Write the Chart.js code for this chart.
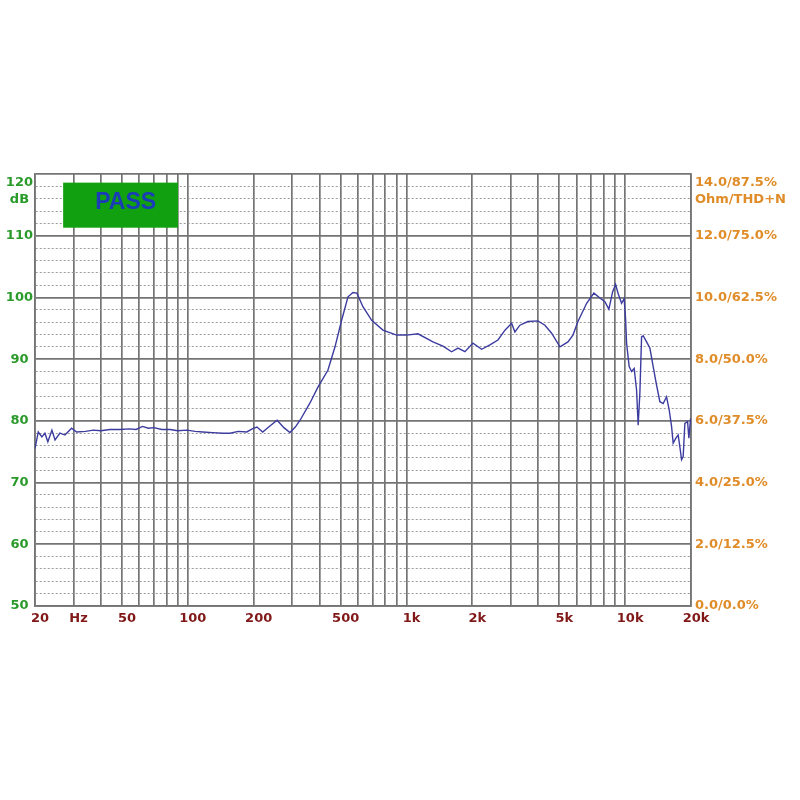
<!DOCTYPE html>
<html><head><meta charset="utf-8">
<script src="https://cdn.jsdelivr.net/npm/chart.js@4/dist/chart.umd.min.js"></script>
<style>html,body{margin:0;padding:0;background:#fff;}#wrap{width:800px;height:800px;}</style>
</head><body><div id="wrap"><canvas id="c" width="800" height="800"></canvas></div>
<script>
// ---- data ----
const freqHz = [20,20.7,21.5,22.2,22.9,23.9,24.7,26.0,27.4,29.4,31.0,34,37,40,44,49,54,58,62,66,70,76,83,90,99,108,117,130,145,156,170,186,197,207,220,238,256,275,293,310,326,362,394,437,471,505,540,569,593,632,693,780,901,1002,1128,1321,1468,1608,1719,1850,2013,2206,2407,2619,2820,3025,3131,3300,3592,3990,4295,4610,5032,5475,5770,6082,6665,7194,7662,8076,8424,8758,9039,9290,9629,9896,10044,10150,10430,10697,10993,11275,11466,11674,11885,12088,12528,12971,13429,13917,14410,14920,15462,15892,16298,16575,17055,17473,17790,18110,18418,18750,19290,19560,19920];
const splDb = [75.5,78.2,77.4,78.0,76.6,78.5,76.9,78.0,77.7,78.8,78.2,78.3,78.5,78.4,78.6,78.6,78.7,78.6,79.1,78.8,78.9,78.6,78.6,78.4,78.5,78.3,78.2,78.1,78.0,78.0,78.3,78.2,78.7,79.0,78.2,79.2,80.1,78.9,78.1,79.0,80.1,82.9,85.5,88.2,92.0,96.3,100.1,100.8,100.7,98.5,96.3,94.7,93.9,93.9,94.1,92.8,92.1,91.2,91.8,91.2,92.6,91.6,92.3,93.1,94.7,95.8,94.4,95.5,96.1,96.2,95.5,94.2,92.0,92.8,93.9,96.1,99.05,100.7,99.9,99.3,98.1,100.9,102.1,100.6,99.05,99.8,96.5,92.6,88.8,88.0,88.5,85.0,79.3,84.5,93.6,93.8,92.8,91.8,88.8,85.8,83.1,82.8,83.9,81.8,79.1,76.4,77.2,77.7,75.8,73.7,74.2,79.6,79.9,77.2,80.4];

const xGridFreqs = [20,30,40,50,60,70,80,90,100,200,300,400,500,600,700,800,900,1000,2000,3000,4000,5000,6000,7000,8000,9000,10000,20000];
const xLabelValues = [20,30,50,100,200,500,1000,2000,5000,10000,20000];
const xLabelTexts = ['20','Hz','50','100','200','500','1k','2k','5k','10k','20k'];

const leftTickValues = [50,60,70,80,90,100,110,120];
const leftTickLabels = ['50','60','70','80','90','100','110','120'];
const rightTickLabels = ['0.0/0.0%','2.0/12.5%','4.0/25.0%','6.0/37.5%','8.0/50.0%','10.0/62.5%','12.0/75.0%','14.0/87.5%'];
const leftUnit = 'dB';
const rightUnit = 'Ohm/THD+N';
const statusText = 'PASS';

// ---- chart ----
const FONT = {family:'"DejaVu Sans", Verdana, sans-serif', size:13, weight:'bold', lineHeight:1.3};
const MAJOR = '#747474', MINOR = '#9a9a9a';

const passPlugin = {
  id:'passBox',
  afterDraw(chart){
    const {ctx} = chart;
    const xs = chart.scales.x, ys = chart.scales.y;
    const x0 = xs.getPixelForValue(26.9), x1 = xs.getPixelForValue(90.2);
    const y0 = ys.getPixelForValue(118.6), y1 = ys.getPixelForValue(111.3);
    ctx.save();
    ctx.fillStyle = '#10a010';
    ctx.fillRect(x0, y0, x1-x0, y1-y0);
    ctx.fillStyle = '#1a3cb8';
    ctx.font = 'bold 23px "Liberation Sans", Arial, sans-serif';
    ctx.textAlign = 'center';
    ctx.textBaseline = 'middle';
    ctx.fillText(statusText, (x0+x1)/2+5, (y0+y1)/2-3);
    ctx.restore();
  }
};

new Chart(document.getElementById('c'), {
  type:'line',
  data:{datasets:[{
    data: freqHz.map((f,i)=>({x:f,y:splDb[i]})),
    borderColor:'#3c3ca0', borderWidth:1.4, pointRadius:0, tension:0, fill:false
  }]},
  options:{
    responsive:false, animation:false,
    layout:{padding:{top:174,bottom:164,left:0,right:0}},
    plugins:{legend:{display:false}, tooltip:{enabled:false}},
    scales:{
      x:{
        type:'logarithmic', min:20, max:20000,
        afterBuildTicks:s=>{ s.ticks = xGridFreqs.map(v=>({value:v})); },
        afterFit:s=>{ s.height = 30; },
        ticks:{
          autoSkip:false, maxRotation:0, minRotation:0, padding:4, labelOffset:5,
          color:'#801818', font:FONT,
          callback:(v)=>{ const i = xLabelValues.indexOf(Number(v)); return i>=0 ? xLabelTexts[i] : ''; }
        },
        grid:{color:MAJOR, lineWidth:1.7, drawTicks:false},
        border:{display:true, color:MAJOR, width:1.7}
      },
      y:{
        type:'linear', position:'left', min:50, max:120,
        afterBuildTicks:s=>{ const t=[]; for(let v=50; v<=120; v+=2) t.push({value:v}); s.ticks=t; },
        afterFit:s=>{ s.width = 35; },
        ticks:{
          autoSkip:false, padding:2, crossAlign:'center', color:'#2a9a2a', font:FONT,
          callback:(v)=>{
            const i = leftTickValues.indexOf(Number(v));
            if (i<0) return '';
            if (v===120) return ['', '', leftTickLabels[i], leftUnit];
            return leftTickLabels[i];
          }
        },
        grid:{
          drawTicks:false,
          color:c=> (c.tick && c.tick.value%10!==0) ? MINOR : MAJOR,
          lineWidth:c=> (c.tick && c.tick.value%10!==0) ? 1 : 1.7
        },
        border:{display:true, color:MAJOR, width:1.7,
          dash:c=> (c.tick && c.tick.value%10!==0) ? [2,2] : []}
      },
      y2:{
        type:'linear', position:'right', min:50, max:120,
        afterBuildTicks:s=>{ s.ticks = leftTickValues.map(v=>({value:v})); },
        afterFit:s=>{ s.width = 109; },
        ticks:{
          autoSkip:false, padding:4, color:'#e08c28', font:FONT,
          callback:(v)=>{
            const i = leftTickValues.indexOf(Number(v));
            if (i<0) return '';
            if (v===120) return ['', '', rightTickLabels[i], rightUnit];
            return rightTickLabels[i];
          }
        },
        grid:{drawOnChartArea:false, drawTicks:false},
        border:{display:true, color:MAJOR, width:1.7}
      }
    }
  },
  plugins:[passPlugin]
});
</script></body></html>
